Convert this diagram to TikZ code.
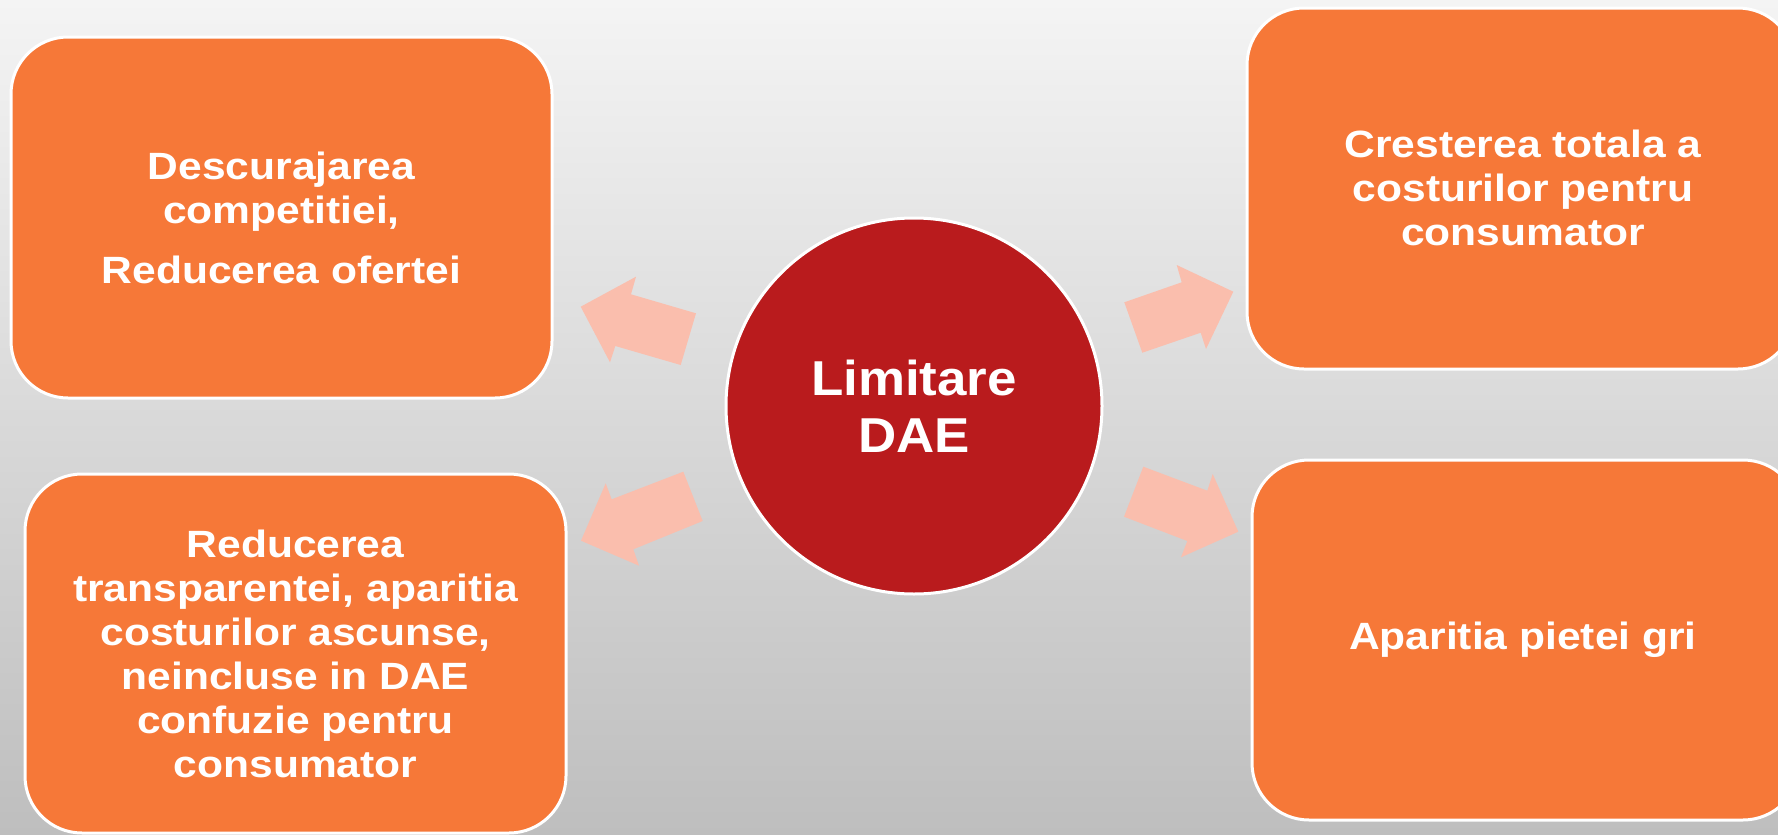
\documentclass[tikz,border=0pt]{standalone}
\usepackage{fontspec}
\setmainfont{Liberation Sans}
\newfontfamily\boxfont[FakeStretch=1.12]{Liberation Sans}
\newfontfamily\circfont[FakeStretch=1.08]{Liberation Sans}
\definecolor{boxor}{RGB}{246,120,56}
\definecolor{cirred}{RGB}{185,27,29}
\definecolor{arrpink}{RGB}{250,190,173}
\definecolor{bgtop}{RGB}{244,244,244}
\definecolor{bgbot}{RGB}{190,190,190}
\begin{document}
\begin{tikzpicture}[x=1pt,y=-1pt,
  boxnode/.style={draw=white,line width=3pt,fill=boxor,rounded corners=57pt,inner sep=0pt},
  boxtext/.style={text=white,font=\boxfont\bfseries\fontsize{38}{44}\selectfont,align=center},
  arrshape/.style={fill=arrpink,draw=none}]
\useasboundingbox (0,0) rectangle (1778,835);
\shade[top color=bgtop,bottom color=bgbot] (0,0) rectangle (1778,835);
% boxes
\node[boxnode,minimum width=541pt,minimum height=361pt] (tl) at (281.5,217.5) {};
\node[boxnode,minimum width=541pt,minimum height=359pt] (bl) at (295.5,653.5) {};
\node[boxnode,minimum width=548pt,minimum height=361pt] (tr) at (1521,188.5) {};
\node[boxnode,minimum width=548pt,minimum height=360pt] (br) at (1526,640) {};
% texts
\node[boxtext] (tlt) at (tl.center) {Descurajarea\\competitiei,\\[16pt]Reducerea ofertei};
\node[boxtext] (blt) at (bl.center) {Reducerea\\transparentei, aparitia\\costurilor ascunse,\\neincluse in DAE\\confuzie pentru\\consumator};
\node[boxtext] (trt) at (1523,188) {Cresterea totala a\\costurilor pentru\\consumator};
\node[boxtext] (brt) at (1523,640) {Aparitia pietei gri};
% circle
\node[circle,draw=white,line width=3pt,fill=cirred,minimum size=376pt,inner sep=0pt,
  text=white,font=\circfont\bfseries\fontsize{49}{57}\selectfont,align=center] (c) at (914,406) {Limitare\\DAE};
% arrows
\fill[arrshape] (580.7,306.7) -- (636,276.7) -- (631,294.3) -- (696,313.3) -- (680.7,365) -- (615.3,346) -- (610,362.3) -- cycle;
\fill[arrshape] (1233.3,291.7) -- (1176.7,265) -- (1181.7,282.3) -- (1124.3,302.3) -- (1142.3,352.7) -- (1200.7,332.7) -- (1206,349) -- cycle;
\fill[arrshape] (581,540.7) -- (605.7,483.3) -- (611.7,499.3) -- (683.3,471.7) -- (702.7,521) -- (633.3,549.3) -- (639,565.7) -- cycle;
\fill[arrshape] (1238.3,531.7) -- (1212.7,474) -- (1207.3,490.7) -- (1143.3,466.7) -- (1124,516.7) -- (1187.3,541) -- (1181,557.3) -- cycle;
\end{tikzpicture}
\end{document}
